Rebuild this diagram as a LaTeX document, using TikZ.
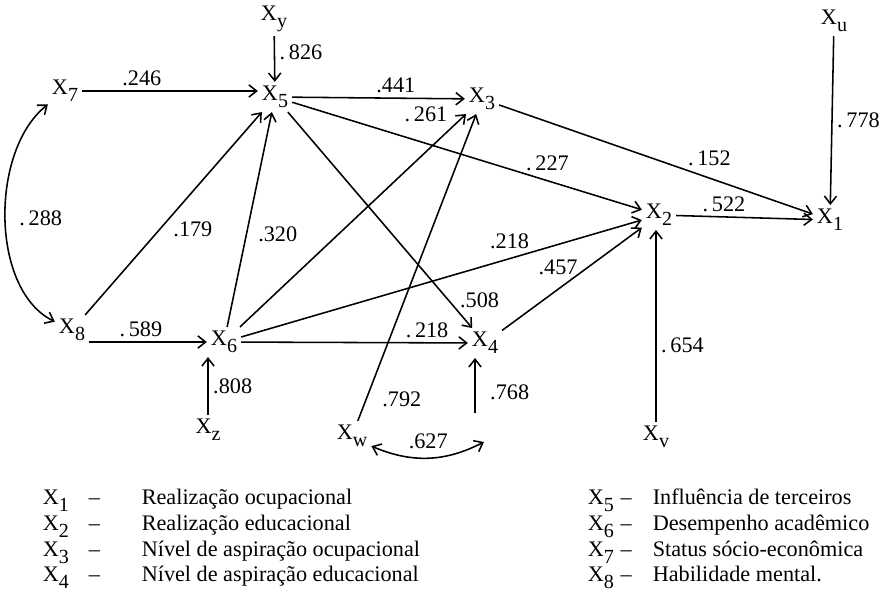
\documentclass[tikz,border=0pt]{standalone}
\usepackage{fontspec}
\setmainfont{Liberation Serif}
\usetikzlibrary{arrows.meta}

\newcommand{\Xv}[1]{X\raisebox{-.7ex}{\small #1}}

\begin{document}
\begin{tikzpicture}[x=0.45pt, y=-0.45pt, line width=0.7pt,
    >={Straight Barb[length=3.5pt, width=5.5pt]},
    var/.style={inner sep=1.5pt},
    coef/.style={inner sep=2pt},
    key/.style={anchor=base west, inner sep=0pt}]
    \useasboundingbox (0,0) rectangle (884,608);
    % variables
    \node[var] (xy) at (274,19) {\Xv{y}};
    \node[var] (x5) at (275,97) {\Xv{5}};
    \node[var] (x7) at (65,91) {\Xv{7}};
    \node[var] (x3) at (482,99) {\Xv{3}};
    \node[var] (xu) at (834,21) {\Xv{u}};
    \node[var] (x1) at (830,220) {\Xv{1}};
    \node[var] (x2) at (659,215) {\Xv{2}};
    \node[var] (x8) at (72,330) {\Xv{8}};
    \node[var] (x6) at (224,342) {\Xv{6}};
    \node[var] (x4) at (485,343) {\Xv{4}};
    \node[var] (xz) at (208,430) {\Xv{z}};
    \node[var] (xw) at (352,436) {\Xv{w}};
    \node[var] (xv) at (656,437) {\Xv{v}};
    \coordinate (r4) at (475,413);
    \coordinate (r4c) at (484,442);
    % paths
    \draw[->] (xy) -- node[coef, right, pos=.35] {.\,826} (x5);
    \draw[->] (x7) -- node[coef, above, pos=.34] {.246} (x7 -| x5.west);
    \draw[->] (x5) -- node[coef, above, pos=.6] {.441} (x3);
    \draw[->] (x6) -- node[coef, above left, pos=.94] {.\,261} (x3);
    \draw[->] (x5) -- node[coef, above=2pt, pos=.73] {.\,227} (x2);
    \draw[->] (x3) -- node[coef, above=3pt, pos=.67] {.\,152} (x1);
    \draw[->] (xu) -- node[coef, right] {.\,778} (x1);
    \draw[->] (x2) -- node[coef, above, pos=.35] {.\,522} (x1);
    \draw[<->] (x7) .. controls (-10,150) and (-10,290) .. node[coef, right=4pt] {.\,288} (x8);
    \draw[->] (x8) -- node[coef, right=4pt, pos=.42] {.179} (x5);
    \draw[->] (x6) -- node[coef, right=3pt, pos=.43] {.320} (x5);
    \draw[->] (x6) -- node[coef, above=2pt, pos=.67] {.218} (x2);
    \draw[->] (x4) -- node[coef, above=4pt, pos=.4] {.457} (x2);
    \draw[->] (x5) -- node[coef, right=3pt, pos=.87] {.508} (x4);
    \draw[->] (x6) -- node[coef, above, pos=.82] {.\,218} (x4);
    \draw[->] (x8.east |- x6) -- node[coef, above, pos=.44] {.\,589} (x6);
    \draw[->] (xz) -- node[coef, right] {.808} (xz |- x6.south);
    \draw[->] (xw) -- node[coef, right=5pt, pos=.07] {.792} (x3);
    \draw[->] (r4) -- node[coef, right=4.5pt, pos=.37] {.768} (r4 |- x4.south);
    \draw[->] (xv) -- node[coef, right, pos=.4] {.\,654} (xv |- x2.south);
    \draw[<->] (xw) to[bend right=25] node[coef, above=2pt] {.627} (r4c);
    % legend
    \node[key] (k1) at (42,504) {\Xv{1}\hspace{9pt}--};
    \node[key] (k2) at (42,530) {\Xv{2}\hspace{9pt}--};
    \node[key] (k3) at (42,556) {\Xv{3}\hspace{9pt}--};
    \node[key] (k4) at (42,581) {\Xv{4}\hspace{9pt}--};
    \node[key] (t1) at (141,504) {Realização ocupacional};
    \node[key] (t2) at (141,530) {Realização educacional};
    \node[key] (t3) at (141,556) {Nível de aspiração ocupacional};
    \node[key] (t4) at (141,581) {Nível de aspiração educacional};
    \node[key] (k5) at (587,504) {\Xv{5}\hspace{3pt}--};
    \node[key] (k6) at (587,530) {\Xv{6}\hspace{3pt}--};
    \node[key] (k7) at (587,556) {\Xv{7}\hspace{3pt}--};
    \node[key] (k8) at (587,581) {\Xv{8}\hspace{3pt}--};
    \node[key] (t5) at (652,504) {Influência de terceiros};
    \node[key] (t6) at (652,530) {Desempenho acadêmico};
    \node[key] (t7) at (652,556) {Status sócio-econômica};
    \node[key] (t8) at (652,581) {Habilidade mental.};
\end{tikzpicture}
\end{document}
